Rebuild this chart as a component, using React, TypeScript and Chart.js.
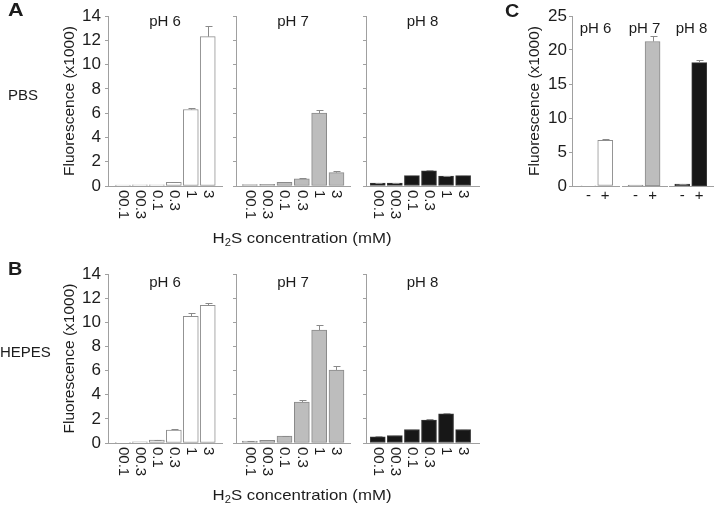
import React, { useEffect, useRef } from "react";
import { Chart, registerables } from "chart.js";

Chart.register(...registerables);

const PAGE_W = 714;
const PAGE_H = 505;
const FONT = "'Liberation Sans', Arial, Helvetica, sans-serif";
const TEXT_COLOR = "#1c1c1c";
const AXIS_COLOR = "#a0a0a0";
const ERR_COLOR = "#8a8a8a";

// ---------- data ----------
const concentrationLabels = ["00.1", "00.3", "0.1", "0.3", "1", "3"];
const treatmentLabels = ["-", "+"];
const phNames = ["pH 6", "pH 7", "pH 8"];
const rowNames = ["PBS", "HEPES"];
const panelLetters = ["A", "B", "C"];
const yTitle = "Fluorescence (x1000)";
const xTitleMain = "H";
const xTitleSub = "2";
const xTitleRest = "S concentration (mM)";

const abYMax = 14;
const abYStep = 2;
const cYMax = 25;
const cYStep = 5;

const pbsPH6 = [0.08, 0.1, 0.1, 0.3, 6.3, 12.3];
const pbsPH6Err = [0, 0, 0, 0.03, 0.15, 0.9];
const pbsPH7 = [0.12, 0.13, 0.3, 0.6, 6.0, 1.1];
const pbsPH7Err = [0, 0, 0, 0.03, 0.25, 0.1];
const pbsPH8 = [0.25, 0.25, 0.85, 1.25, 0.82, 0.85];
const pbsPH8Err = [0.02, 0.02, 0.05, 0.05, 0.04, 0.04];

const hepesPH6 = [0.06, 0.09, 0.25, 1.08, 10.5, 11.4];
const hepesPH6Err = [0, 0, 0.03, 0.1, 0.25, 0.2];
const hepesPH7 = [0.15, 0.22, 0.58, 3.4, 9.35, 6.05];
const hepesPH7Err = [0.02, 0.03, 0.03, 0.15, 0.4, 0.35];
const hepesPH8 = [0.52, 0.62, 1.12, 1.9, 2.42, 1.12];
const hepesPH8Err = [0.05, 0.03, 0.03, 0.05, 0.08, 0.05];

const cPH6 = [0.08, 6.7];
const cPH6Err = [0, 0.25];
const cPH7 = [0.14, 21.25];
const cPH7Err = [0, 0.75];
const cPH8 = [0.3, 18.15];
const cPH8Err = [0.02, 0.4];

// ---------- styles / layout ----------
const phFills = ["#ffffff", "#bdbdbd", "#171717"];
const phBorders = ["#8e8e8e", "#8a8a8a", "#3a3a3a"];

const abCols = [
  { left: 108, right: 222, xMin: -0.88, xMax: 5.84 },
  { left: 236, right: 350, xMin: -0.8, xMax: 5.78 },
  { left: 366, right: 479, xMin: -0.69, xMax: 5.93 },
];
const abRows = [
  { top: 16, bottom: 186, titleDy: 6 },
  { top: 274, bottom: 443, titleDy: 9 },
];
const cCols = [
  { left: 572, right: 619, xMin: -0.98, xMax: 1.82 },
  { left: 622, right: 667, xMin: -0.8, xMax: 1.85 },
  { left: 669, right: 714, xMin: -0.78, xMax: 1.87 },
];
const cRow = { top: 16, bottom: 186, titleDy: 13 };

type Panel = {
  values: number[];
  errors: number[];
  labels: string[];
  fill: string;
  border: string;
  left: number;
  right: number;
  top: number;
  bottom: number;
  xMin: number;
  xMax: number;
  yMax: number;
  yStep: number;
  yMode: "full" | "ticks" | "none";
  titleCenter: number;
  tickPad: number;
  title: string;
  titleDy: number;
  rotate: boolean;
  figureText: boolean;
};

const abSeries = [
  [pbsPH6, pbsPH7, pbsPH8],
  [hepesPH6, hepesPH7, hepesPH8],
];
const abErrors = [
  [pbsPH6Err, pbsPH7Err, pbsPH8Err],
  [hepesPH6Err, hepesPH7Err, hepesPH8Err],
];
const cSeries = [cPH6, cPH7, cPH8];
const cErrors = [cPH6Err, cPH7Err, cPH8Err];

function buildPanels(): Panel[] {
  const panels: Panel[] = [];
  abRows.forEach((row, r) => {
    abCols.forEach((col, c) => {
      panels.push({
        values: abSeries[r][c],
        errors: abErrors[r][c],
        labels: concentrationLabels,
        fill: phFills[c],
        border: phBorders[c],
        left: col.left,
        right: col.right,
        top: row.top,
        bottom: row.bottom,
        xMin: col.xMin,
        xMax: col.xMax,
        yMax: abYMax,
        yStep: abYStep,
        yMode: c === 0 ? "full" : "ticks",
        titleCenter: 70,
        tickPad: 4,
        title: phNames[c],
        titleDy: row.titleDy,
        rotate: true,
        figureText: r === 0 && c === 0,
      });
    });
  });
  cCols.forEach((col, c) => {
    panels.push({
      values: cSeries[c],
      errors: cErrors[c],
      labels: treatmentLabels,
      fill: phFills[c],
      border: phBorders[c],
      left: col.left,
      right: col.right,
      top: cRow.top,
      bottom: cRow.bottom,
      xMin: col.xMin,
      xMax: col.xMax,
      yMax: cYMax,
      yStep: cYStep,
      yMode: c === 0 ? "full" : "none",
      titleCenter: 534.5,
      tickPad: 2,
      title: phNames[c],
      titleDy: cRow.titleDy,
      rotate: false,
      figureText: false,
    });
  });
  return panels;
}

const TITLE_SIZE = 15.5;

function drawStretched(
  ctx: CanvasRenderingContext2D,
  text: string,
  x: number,
  y: number,
  sx: number,
  align: CanvasTextAlign
) {
  ctx.save();
  ctx.translate(x, y);
  ctx.scale(sx, 1);
  ctx.textAlign = align;
  ctx.fillText(text, 0, 0);
  ctx.restore();
}

function drawXTitle(ctx: CanvasRenderingContext2D, cx: number, cy: number) {
  const sx = 1.12;
  const big = `15px ${FONT}`;
  const small = `10px ${FONT}`;
  ctx.save();
  ctx.textBaseline = "middle";
  ctx.textAlign = "left";
  ctx.font = big;
  const w1 = ctx.measureText(xTitleMain).width;
  const w3 = ctx.measureText(xTitleRest).width;
  ctx.font = small;
  const w2 = ctx.measureText(xTitleSub).width;
  const total = (w1 + w2 + w3) * sx;
  let x = cx - total / 2;
  ctx.font = big;
  drawStretched(ctx, xTitleMain, x, cy, sx, "left");
  x += w1 * sx;
  ctx.font = small;
  drawStretched(ctx, xTitleSub, x, cy + 4, sx, "left");
  x += w2 * sx;
  ctx.font = big;
  drawStretched(ctx, xTitleRest, x, cy, sx, "left");
  ctx.restore();
}

function makeChart(canvas: HTMLCanvasElement, p: Panel) {
  const lineH = TITLE_SIZE * 1.2;
  const yWidth = p.yMode === "full" ? p.left - (p.titleCenter - lineH / 2) : p.yMode === "ticks" ? 4 : 0;

  const panelPlugin = {
    id: "panelDecor",
    afterDatasetsDraw(chart: any) {
      const ctx: CanvasRenderingContext2D = chart.ctx;
      const ys = chart.scales.y;
      const meta = chart.getDatasetMeta(0);
      ctx.save();
      ctx.strokeStyle = ERR_COLOR;
      ctx.lineWidth = 1;
      meta.data.forEach((el: any, i: number) => {
        const e = p.errors[i];
        if (!e) return;
        const x = Math.round(el.x) + 0.5;
        const yTop = Math.round(ys.getPixelForValue(p.values[i] + e)) + 0.5;
        ctx.beginPath();
        ctx.moveTo(x, el.y);
        ctx.lineTo(x, yTop);
        ctx.moveTo(x - 3, yTop);
        ctx.lineTo(x + 4, yTop);
        ctx.stroke();
      });
      ctx.restore();
    },
    afterDraw(chart: any) {
      const ctx: CanvasRenderingContext2D = chart.ctx;
      const xs = chart.scales.x;
      const area = chart.chartArea;
      ctx.save();
      ctx.fillStyle = TEXT_COLOR;
      ctx.font = `15px ${FONT}`;
      p.labels.forEach((lab, i) => {
        const x = xs.getPixelForValue(i);
        if (p.rotate) {
          ctx.save();
          ctx.translate(x, area.bottom + 4);
          ctx.rotate(Math.PI / 2);
          ctx.textAlign = "left";
          ctx.textBaseline = "middle";
          ctx.fillText(lab, 0, 0);
          ctx.restore();
        } else {
          ctx.textAlign = "center";
          ctx.textBaseline = "middle";
          ctx.fillText(lab, x, area.bottom + 10);
        }
      });
      ctx.font = `15px ${FONT}`;
      ctx.textAlign = "center";
      ctx.textBaseline = "middle";
      ctx.fillText(p.title, (area.left + area.right) / 2, area.top + p.titleDy);

      if (p.figureText) {
        ctx.textBaseline = "middle";
        ctx.font = `bold 18px ${FONT}`;
        drawStretched(ctx, panelLetters[0], 8, 11, 1.2, "left");
        drawStretched(ctx, panelLetters[1], 8, 270, 1.1, "left");
        drawStretched(ctx, panelLetters[2], 505, 12, 1.1, "left");
        ctx.font = `15px ${FONT}`;
        ctx.textAlign = "left";
        ctx.fillText(rowNames[0], 8, 96);
        ctx.fillText(rowNames[1], 0, 353);
        drawXTitle(ctx, 302, 239);
        drawXTitle(ctx, 302, 496);
      }
      ctx.restore();
    },
  };

  return new Chart(canvas, {
    type: "bar",
    data: {
      datasets: [
        {
          data: p.values.map((v, i) => ({ x: i, y: v })),
          backgroundColor: p.fill,
          borderColor: p.border,
          borderWidth: 1,
          borderSkipped: false,
          barThickness: 15,
        } as any,
      ],
    },
    options: {
      responsive: false,
      animation: false,
      devicePixelRatio: 1,
      layout: {
        padding: {
          left: p.left - yWidth,
          right: PAGE_W - p.right,
          top: p.top,
          bottom: PAGE_H - p.bottom,
        },
      },
      plugins: {
        legend: { display: false },
        tooltip: { enabled: false },
        title: { display: false },
      },
      scales: {
        x: {
          type: "linear",
          min: p.xMin,
          max: p.xMax,
          offset: false,
          grid: { display: false, drawTicks: false },
          border: { display: true, color: AXIS_COLOR, width: 1 },
          ticks: { display: false },
          afterFit: (s: any) => {
            s.height = 0;
          },
        },
        y: {
          type: "linear",
          min: 0,
          max: p.yMax,
          display: p.yMode !== "none",
          ticks: {
            stepSize: p.yStep,
            display: p.yMode === "full",
            font: { family: FONT, size: 17 },
            color: TEXT_COLOR,
            padding: p.tickPad,
          },
          grid: {
            display: true,
            drawOnChartArea: false,
            drawTicks: true,
            tickLength: 3,
            color: AXIS_COLOR,
          },
          border: { display: true, color: AXIS_COLOR, width: 1 },
          title: {
            display: p.yMode === "full",
            text: yTitle,
            font: { family: FONT, size: TITLE_SIZE },
            color: TEXT_COLOR,
            padding: 0,
          },
          afterFit: (s: any) => {
            s.width = yWidth;
          },
        },
      },
    } as any,
    plugins: [panelPlugin],
  });
}

function PanelCanvas({ panel }: { panel: Panel }) {
  const ref = useRef<HTMLCanvasElement>(null);
  useEffect(() => {
    if (!ref.current) return;
    const chart = makeChart(ref.current, panel);
    return () => chart.destroy();
  }, [panel]);
  return (
    <canvas
      ref={ref}
      width={PAGE_W}
      height={PAGE_H}
      style={{ position: "absolute", left: 0, top: 0, width: PAGE_W, height: PAGE_H }}
    />
  );
}

const PANELS = buildPanels();

export default function App() {
  return (
    <div
      style={{
        position: "absolute",
        left: 0,
        top: 0,
        width: PAGE_W,
        height: PAGE_H,
        background: "#ffffff",
        overflow: "hidden",
      }}
    >
      {PANELS.map((p, i) => (
        <PanelCanvas key={i} panel={p} />
      ))}
    </div>
  );
}
